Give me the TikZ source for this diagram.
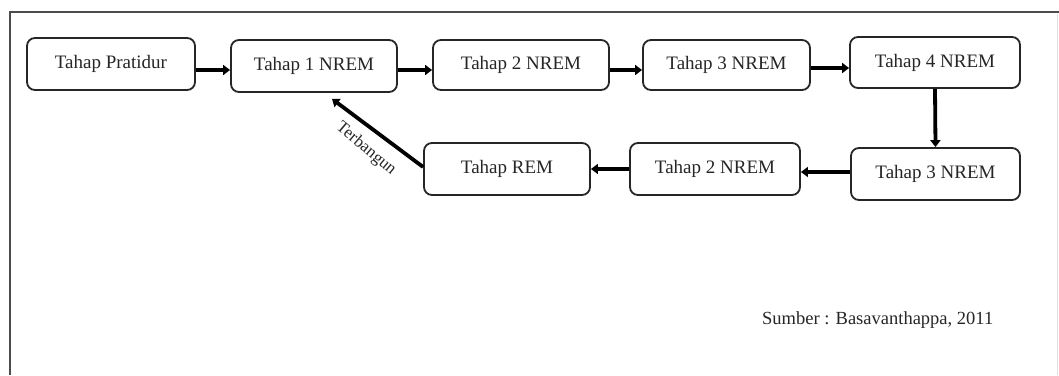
\documentclass[tikz,border=0pt]{standalone}
\usepackage{fontspec}
\setmainfont{Liberation Serif}
\usetikzlibrary{arrows.meta}
\begin{document}
\begin{tikzpicture}[x=1pt,y=-1pt,
  stage/.style={draw=black!85, line width=1.8pt, rounded corners=8pt, fill=white,
    inner sep=0pt, font=\fontsize{19}{21}\selectfont, text=black!85},
  arr/.style={line width=3.8pt, -{Triangle[length=7pt,width=10pt]}},
  frameline/.style={draw=black!70, line width=2.5pt}]
\useasboundingbox (0,0) rectangle (1059,375);
\fill[white] (0,0) rectangle (1059,375);
\draw[frameline] (10,375) -- (10,12) -- (1059,12);
\draw[black!12, line width=1pt] (1057,14) -- (1057,375);

\node[stage, minimum width=168pt, minimum height=52pt] (P)  at (111,64)   {Tahap Pratidur};
\node[stage, minimum width=166pt, minimum height=52pt] (A1) at (314,66)   {Tahap 1 NREM};
\node[stage, minimum width=176pt, minimum height=50pt] (A2) at (521,65)   {Tahap 2 NREM};
\node[stage, minimum width=167pt, minimum height=50pt] (A3) at (726.5,65) {Tahap 3 NREM};
\node[stage, minimum width=170pt, minimum height=51pt] (A4) at (935,62.5) {Tahap 4 NREM};
\node[stage, minimum width=166pt, minimum height=52pt] (R)  at (507,169)  {Tahap REM};
\node[stage, minimum width=170pt, minimum height=52pt] (B2) at (715,169)  {Tahap 2 NREM};
\node[stage, minimum width=169pt, minimum height=52pt] (B3) at (935.5,174) {Tahap 3 NREM};

\draw[arr] ([yshift=-6pt]P.east) -- ([yshift=-4pt]A1.west);
\draw[arr] ([yshift=-4pt]A1.east) -- ([yshift=-5pt]A2.west);
\draw[arr] ([yshift=-5pt]A2.east) -- ([yshift=-5pt]A3.west);
\draw[arr] ([yshift=-3pt]A3.east) -- ([yshift=-5.5pt]A4.west);
\draw[arr] (A4.south) -- (B3.north);
\draw[arr] ([yshift=2pt]B3.west) -- ([yshift=-3pt]B2.west -| B2.east);
\draw[arr] (B2.west) -- (R.east);
\draw[arr] ([yshift=2pt]R.west) -- ([xshift=18pt,yshift=-6pt]A1.south);

\node[font=\fontsize{17}{19}\selectfont, text=black!85, rotate=-40, inner sep=0pt] (lab) at (366,149) {Terbangun};
\node[font=\fontsize{18.5}{20}\selectfont, text=black!85, anchor=west, inner sep=0pt] (src) at (762,320) {Sumber : Basavanthappa, 2011};
\end{tikzpicture}
\end{document}
